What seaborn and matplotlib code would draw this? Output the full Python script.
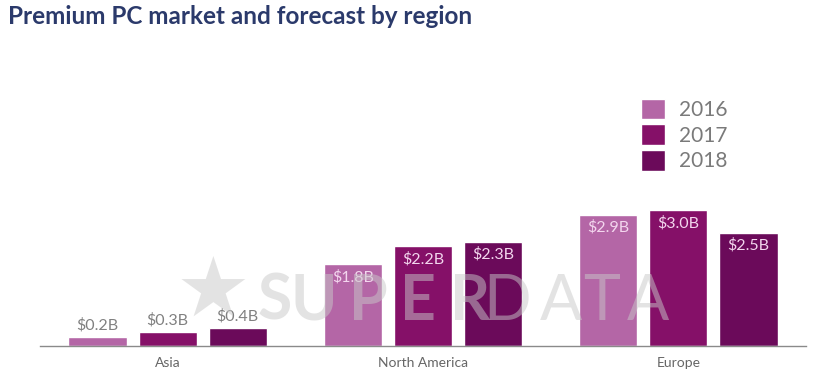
import matplotlib
matplotlib.use("Agg")
import matplotlib.pyplot as plt
import seaborn as sns
import pandas as pd

regions = ["Asia", "North America", "Europe"]
years = ["2016", "2017", "2018"]
values_2016 = [0.2, 1.8, 2.9]
values_2017 = [0.3, 2.2, 3.0]
values_2018 = [0.4, 2.3, 2.5]
colors = ["#b466a6", "#851068", "#6b0a5a"]

rows = []
for yr, vals in zip(years, [values_2016, values_2017, values_2018]):
    for r, v in zip(regions, vals):
        rows.append({"region": r, "year": yr, "value": v})
df = pd.DataFrame(rows)

sns.set_theme(style="white")
plt.rcParams["font.family"] = ["Lato", "DejaVu Sans"]

fig = plt.figure(figsize=(8.2, 3.86), dpi=100)
ax = fig.add_axes([40 / 820, 1 - 346 / 386, 766 / 820, 286 / 386])

sns.barplot(data=df, x="region", y="value", hue="year", order=regions,
            hue_order=years, palette=colors, width=0.824, gap=0.17,
            saturation=1, ax=ax, legend=True, errorbar=None)

ax.set_xlim(-0.5, 2.5)
ax.set_ylim(0, 286 / 45.3)
ax.set_xlabel("")
ax.set_ylabel("")
ax.set_yticks([])
for s in ["top", "right", "left"]:
    ax.spines[s].set_visible(False)
ax.spines["bottom"].set_color("#8a8a8a")
ax.spines["bottom"].set_linewidth(1.0)
ax.tick_params(axis="x", length=0, pad=8, labelsize=10, labelcolor="#666666")

# value labels
for ci, cont in enumerate(ax.containers):
    for bar, v in zip(cont, [values_2016, values_2017, values_2018][ci]):
        x = bar.get_x() + bar.get_width() / 2
        h = bar.get_height()
        txt = f"${v:.1f}B"
        if h < 1.0:
            ax.text(x, h + 0.1, txt, ha="center", va="bottom", fontsize=11.5,
                    color="#808080", zorder=5)
        else:
            ax.text(x, h - 0.12, txt, ha="center", va="top", fontsize=11.5,
                    color="#f3d6ee", zorder=5)

# legend
handles, labels = ax.get_legend_handles_labels()
ax.legend(handles, labels, loc="upper left", bbox_to_anchor=(0.76, 0.93),
          frameon=False, handlelength=1.15, handleheight=1.15,
          handletextpad=0.7, labelspacing=0.2, labelcolor="#7a7a7a",
          prop={"size": 15})

# watermark (semi-transparent, over the bars)
wm_color = "#c8c8c8"
wm_alpha = 0.5
fig.text(213 / 820, 1 - 292 / 386, "★", fontsize=60, color=wm_color,
         alpha=wm_alpha, ha="center", va="center", family="DejaVu Sans", zorder=10)
wm_letters = ["S", "U", "P", "E", "R", "D", "A", "T", "A"]
wm_weights = ["bold"] * 5 + ["normal"] * 4
wm_x = [275, 314, 368, 418, 470, 507, 561, 602, 648]
for ch, wt, xx in zip(wm_letters, wm_weights, wm_x):
    fig.text(xx / 820, 1 - 320 / 386, ch, fontsize=45, color=wm_color,
             alpha=wm_alpha, ha="center", va="baseline", fontweight=wt, zorder=10)

fig.text(8 / 820, 1 - 17 / 386, "Premium PC market and forecast by region",
         fontsize=17.5, fontweight="bold", color="#2b3a6b", ha="left", va="center")

fig.savefig("out.png", dpi=100)
